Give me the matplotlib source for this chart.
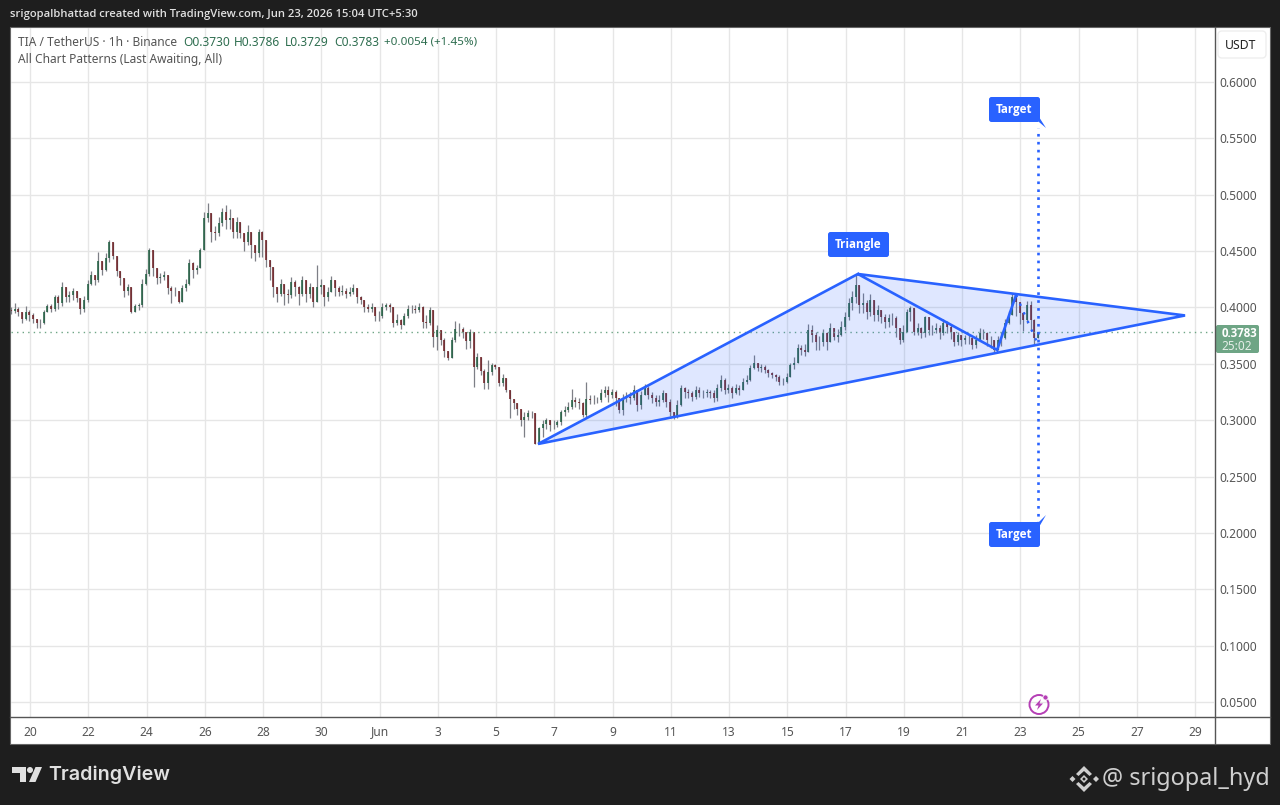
import matplotlib
matplotlib.use("Agg")
import matplotlib.pyplot as plt
from matplotlib.patches import Rectangle, FancyBboxPatch, Polygon, Circle
import numpy as np

plt.rcParams['font.family'] = ['Noto Sans', 'DejaVu Sans']

# 3 hour candles, open is the previous close
closes = [
    .397,.399,.396,.390,.396,.393,.390,.386,.386,.396,.401,.399,.409,.404,.418,.409,.411,.415,.408,.399,
    .407,.421,.429,.424,.441,.433,.444,.458,.446,.432,.426,.415,.418,.396,.401,.402,.421,.430,.451,.435,
    .426,.427,.429,.417,.415,.415,.405,.417,.421,.439,.433,.435,.451,.479,.484,.467,.466,.475,.485,.478,
    .479,.467,.476,.466,.458,.467,.455,.448,.467,.460,.442,.436,.418,.412,.421,.412,.411,.423,.418,.412,
    .424,.412,.418,
    .405,.418,.420,.4095,.414,.424,.417,.414,.415,.412,.414,.417,.4095,.4066,.4007,.399,.4007,.392,.392,.4007,
    .402,.4007,.386,.389,.384,.392,.399,.399,.398,.4007,.387,.386,.398,.374,.380,.371,.361,.355,.371,.381,
    .381,.3785,.370,.3785,.347,.356,.344,.333,.343,.349,.347,.333,.337,.327,.319,.315,.310,.300,.303,.306,
    .306,.279,.293,.297,.300,.296,.296,.2985,.307,.309,.312,.318,.316,.315,.3045,.319,.318,.318,.318,
    .3238,.3267,.3223,.3252,.3193,.309,.3193,.3208,.3193,.3267,.3134,.3223,.3282,.3223,.3193,.3164,.3178,.3238,.3164,.3075,
    .3024,.3134,.3282,.3252,.3238,.3208,.3267,.3238,.3238,.3252,.3238,.3193,.3282,.3356,.3267,.3282,.3238,.3282,.3267,.3341,
    .3356,.346,.3504,.346,.3474,.3445,.3415,.34,.3386,.3341,.3341,.3386,.3489,.3504,.3637,.3622,.3608,.38,.3756,.3696,
    .3696,.377,.3696,
    .3814,.374,.3755,.383,.3918,.4036,.4095,.4199,.4021,.4036,.3962,.4066,.3933,.3977,.3918,.3873,.3903,.3903,.3814,.371,
    .3785,.3962,.3992,.3785,.3814,.377,.3918,.3799,.3799,.3814,.377,.3859,.383,.3785,.3696,.3755,.371,.3725,.3725,.3666,
    .371,.377,.377,.371,.371,.3622,.371,.3725,.3859,.3933,.4095,.4051,.3947,.3888,.4021,.3888,.373,.3783,
]
highs = [
    .400,.404,.400,.396,.401,.398,.395,.390,.390,.398,.403,.403,.411,.411,.423,.417,.415,.417,.413,.404,
    .410,.424,.432,.429,.449,.440,.448,.460,.452,.440,.431,.420,.421,.400,.403,.404,.425,.434,.453,.445,
    .430,.431,.432,.425,.419,.418,.413,.420,.425,.443,.440,.438,.453,.485,.493,.478,.472,.480,.488,.491,
    .487,.476,.480,.474,.465,.473,.462,.455,.470,.468,.450,.440,.428,.418,.425,.420,.416,.427,.424,.419,
    .428,.424,.422,
    .410,.438,.425,.420,.418,.428,.424,.419,.420,.417,.418,.421,.414,.410,.405,.403,.404,.399,.397,.404,
    .404,.404,.395,.394,.390,.395,.402,.402,.402,.404,.401,.393,.400,.398,.384,.378,.373,.360,.374,.388,
    .386,.383,.376,.381,.373,.360,.350,.345,.353,.351,.350,.345,.341,.333,.323,.319,.315,.306,.307,.309,
    .308,.292,.294,.300,.302,.300,.300,.300,.309,.313,.316,.328,.321,.320,.316,.334,.322,.322,.321,
    .328,.330,.330,.328,.327,.320,.323,.325,.325,.331,.324,.326,.332,.330,.325,.322,.322,.327,.323,.319,
    .306,.318,.331,.329,.328,.326,.330,.329,.327,.328,.327,.327,.332,.340,.337,.332,.330,.332,.331,.337,
    .340,.349,.358,.351,.350,.349,.345,.343,.341,.340,.337,.342,.351,.356,.368,.367,.368,.385,.384,.378,
    .375,.381,.378,
    .386,.382,.381,.388,.396,.408,.415,.4297,.411,.413,.407,.412,.402,.402,.396,.394,.394,.395,.392,.381,
    .384,.399,.401,.394,.386,.383,.392,.388,.384,.386,.384,.390,.388,.385,.378,.378,.376,.376,.376,.372,
    .376,.382,.381,.378,.375,.369,.375,.378,.390,.397,.4125,.411,.402,.396,.4055,.4055,.390,.3786,
]
lows = [
    .394,.395,.392,.386,.389,.388,.386,.382,.382,.385,.396,.396,.397,.399,.401,.405,.405,.407,.405,.394,
    .396,.405,.420,.420,.423,.429,.432,.440,.443,.428,.420,.409,.411,.395,.396,.398,.400,.420,.428,.428,
    .421,.422,.424,.412,.404,.410,.404,.405,.415,.420,.426,.430,.435,.451,.476,.458,.460,.463,.472,.470,
    .470,.462,.462,.462,.450,.455,.444,.441,.445,.445,.436,.424,.409,.405,.410,.402,.404,.408,.410,.402,
    .410,.405,.408,
    .400,.405,.412,.401,.406,.415,.410,.410,.411,.408,.410,.412,.404,.403,.396,.396,.396,.388,.388,.391,
    .398,.396,.383,.384,.381,.384,.391,.395,.395,.396,.382,.382,.384,.365,.362,.367,.356,.353,.355,.369,
    .375,.373,.363,.364,.329,.345,.340,.328,.328,.340,.345,.330,.330,.325,.302,.310,.305,.295,.285,.300,
    .302,.279,.280,.285,.292,.290,.292,.294,.296,.304,.307,.310,.312,.310,.303,.303,.314,.314,.315,
    .316,.321,.316,.320,.313,.306,.305,.316,.314,.318,.308,.310,.323,.319,.315,.313,.313,.316,.312,.304,
    .301,.302,.313,.320,.320,.317,.319,.321,.320,.321,.320,.316,.317,.326,.323,.324,.320,.323,.322,.328,
    .332,.335,.345,.344,.343,.342,.338,.337,.335,.331,.331,.333,.338,.345,.351,.358,.357,.362,.369,.362,
    .362,.366,.362,
    .372,.371,.369,.375,.380,.389,.398,.404,.395,.395,.390,.392,.388,.388,.386,.382,.383,.384,.374,.368,
    .369,.378,.388,.376,.376,.373,.374,.376,.376,.377,.372,.376,.377,.372,.366,.367,.366,.368,.368,.363,
    .364,.370,.372,.366,.364,.3605,.362,.366,.372,.385,.393,.392,.385,.379,.386,.379,.367,.3729,
]
first_open = .398
last_price = .3783

# days since May 20
day_ticks = [0, 2, 4, 6, 8, 10, 12, 14, 16, 18, 20, 22, 24, 26, 28, 30, 32, 34, 36, 38, 40]
day_labels = ['20', '22', '24', '26', '28', '30', 'Jun', '3', '5', '7', '9', '11', '13', '15', '17', '19', '21', '23', '25', '27', '29']
price_ticks = [.60, .55, .50, .45, .40, .35, .30, .25, .20, .15, .10, .05]

# pattern points (day, price)
tri_a = (17.44, .2789)
tri_b = (28.42, .4297)
tri_c = (39.65, .3929)
zig_d = (33.2, .3623)
zig_e = (33.85, .411)
zig_f = (34.6, .3675)
target_up = .5595
target_down = .2075
target_day = 34.62

BLUE = '#2962ff'
GREEN = '#6ea585'
TXT = '#555555'
BOLD = ['Open Sans', 'DejaVu Sans']

assert len(closes) == len(highs) == len(lows)
closes = np.array(closes)
opens = np.r_[first_open, closes[:-1]]
highs = np.maximum(np.maximum(highs, opens), closes)
lows = np.minimum(np.minimum(lows, opens), closes)
days = -0.65 + 0.125 * np.arange(len(closes))

fig = plt.figure(figsize=(12.8, 8.05), dpi=100, facecolor='#1e1e1e')

# pixel space layers for the frame and the labels
def pixel_axes(z):
    a = fig.add_axes([0, 0, 1, 1], zorder=z)
    a.set_xlim(0, 1280)
    a.set_ylim(805, 0)
    a.axis('off')
    return a

back = pixel_axes(0)
back.add_patch(Rectangle((10, 27), 1259.5, 717, fc='white', ec='#666666', lw=0.8))

# main chart, limits follow from the tick pixels
ax = fig.add_axes([11 / 1280, 1 - 717 / 805, (1214 - 11) / 1280, (717 - 28) / 805], zorder=1)
ax.patch.set_alpha(0)
ax.set_xlim((11 - 30) / 29.13, (1214 - 30) / 29.13)
ax.set_ylim(.6 - (717 - 82) / 1127.3, .6 - (28 - 82) / 1127.3)
ax.set_xticks(day_ticks)
ax.set_yticks(price_ticks)
ax.grid(True, color='#e6e6e6', lw=1)
ax.set_axisbelow(True)
ax.tick_params(length=0, labelbottom=False, labelleft=False)
for s in ax.spines.values():
    s.set_visible(False)

up = closes >= opens
ax.vlines(days, lows, highs, color='#7d7f86', lw=0.9, zorder=2)
ax.vlines(days[up], opens[up], closes[up], color='#1d5c3e', lw=1.1, zorder=3)
ax.vlines(days[~up], opens[~up], closes[~up], color='#6e1b1f', lw=1.1, zorder=3)

ax.axhline(last_price, color=GREEN, lw=1, ls=(0, (1, 3)), zorder=3)

# triangle pattern
ax.add_patch(Polygon([tri_a, tri_b, tri_c], fc=BLUE, alpha=.15, ec='none', zorder=4))
tx, ty = zip(tri_b, tri_a, tri_c, tri_b, zig_d, zig_e)
ax.plot(tx, ty, color=BLUE, lw=1.9, zorder=5, solid_joinstyle='miter')
ax.plot([zig_e[0], zig_f[0]], [zig_e[1], zig_f[1]], color=BLUE, lw=1.7, ls=(0, (1, 3)), zorder=5)
ax.plot([target_day, target_day], [target_down, target_up], color=BLUE, lw=1.9, ls=(0, (1, 2)), zorder=5)

# frame lines and labels
top = pixel_axes(2)
top.plot([1214.5, 1214.5], [27, 744], color='#555555', lw=1)
top.plot([10, 1269.5], [717, 717], color='#555555', lw=1)

for d, lab in zip(day_ticks, day_labels):
    top.text(30 + d * 29.13, 732, lab, ha='center', va='center', fontsize=8.6, color=TXT,
             fontweight='medium' if lab == 'Jun' else 'normal')
for p in price_ticks:
    top.text(1238.5, 83.5 + (.6 - p) * 1127.3, '%.4f' % p, ha='center', va='center', fontsize=8.6, color=TXT)

top.add_patch(FancyBboxPatch((1221, 34), 42, 21, boxstyle='round,pad=3,rounding_size=4', fc='white', ec='#eeeeee', lw=1))
top.text(1241, 45.5, 'USDT', ha='center', va='center', fontsize=8.8, color='#222222')

# last price tag
top.add_patch(FancyBboxPatch((1216, 325), 43, 28, boxstyle='round,pad=0,rounding_size=2', fc=GREEN, ec='none'))
top.text(1239, 333.5, '0.3783', ha='center', va='center', fontsize=8.3, color='white', fontweight='bold', family=BOLD)
top.text(1237, 346, '25:02', ha='center', va='center', fontsize=8.5, color='#e4eee8')

# header texts
top.text(10, 15, 'srigopalbhattad created with TradingView.com, Jun 23, 2026 15:04 UTC+5:30',
         ha='left', va='center', fontsize=8.1, color='#e0e0e0', fontweight='semibold', family=BOLD)
top.text(18, 42.5, 'TIA / TetherUS · 1h · Binance', ha='left', va='center', fontsize=8.6, color=TXT)
for x, s in [(183, 'O0.3730'), (234, 'H0.3786'), (285, 'L0.3729'), (334, 'C0.3783')]:
    top.text(x, 42.5, s, ha='left', va='center', fontsize=8.6, color='#2f6e50')
top.text(384, 42.5, '+0.0054 (+1.45%)', ha='left', va='center', fontsize=8.4, color='#2f6e50')
top.text(18, 59.5, 'All Chart Patterns (Last Awaiting, All)', ha='left', va='center', fontsize=8.6, color=TXT)

# pattern labels
def label(x0, y0, w, h, s):
    top.add_patch(FancyBboxPatch((x0, y0), w, h, boxstyle='round,pad=0,rounding_size=2.5', fc=BLUE, ec='none'))
    top.text(x0 + w / 2, y0 + h / 2, s, ha='center', va='center', fontsize=8.4, color='white', fontweight='bold', family=BOLD)

label(828, 232, 61, 25, 'Triangle')
label(989, 97, 51, 25, 'Target')
label(989, 522, 51, 25, 'Target')
top.add_patch(Polygon([(1039, 117), (1046, 128), (1039, 122)], fc=BLUE, ec='none'))
top.add_patch(Polygon([(1039, 527), (1046, 515), (1039, 522)], fc=BLUE, ec='none'))

# dividend style icon
purple = '#b53fb5'
top.add_patch(Circle((1039, 704.5), 9.5, fc='none', ec=purple, lw=1.4))
top.add_patch(Circle((1045.5, 697.5), 2.6, fc=purple, ec='white', lw=.6))
top.add_patch(Polygon([(1041, 699), (1035, 705.5), (1038.5, 705.5), (1037, 710), (1043, 703.5), (1039.5, 703.5)], fc=purple, ec='none'))

# TradingView logo
lg = '#e0e0e0'
top.add_patch(Polygon([(12, 767), (26, 767), (26, 782), (20, 782), (20, 773), (12, 773)], fc=lg, ec='none'))
top.add_patch(Circle((30, 770), 3, fc=lg, ec='none'))
top.add_patch(Polygon([(35.5, 767), (42, 767), (35.5, 782), (29, 782)], fc=lg, ec='none'))
top.text(48.5, 775, 'TradingView', ha='left', va='center', fontsize=14.2, color=lg, fontweight='semibold', family='Inter')

# watermark with exchange icon
wm = '#cfcfcf'
def diamond(cx, cy, r, c=wm):
    top.add_patch(Polygon([(cx - r, cy), (cx, cy - r), (cx + r, cy), (cx, cy + r)], fc=c, ec='none'))

diamond(1072.5, 779, 3)
diamond(1096, 779, 3)
diamond(1084, 779, 4)
diamond(1084, 779, 1.8, '#1e1e1e')
top.add_patch(Polygon([(1084, 766), (1092, 774), (1089.5, 776), (1084, 771), (1078.5, 776), (1076, 774)], fc=wm, ec='none'))
top.add_patch(Polygon([(1084, 792), (1092, 784), (1089.5, 782), (1084, 787), (1078.5, 782), (1076, 784)], fc=wm, ec='none'))
top.text(1102, 778.5, '@ srigopal_hyd', ha='left', va='center', fontsize=16.9, color=wm)

fig.savefig('out.png', dpi=100, facecolor=fig.get_facecolor())
